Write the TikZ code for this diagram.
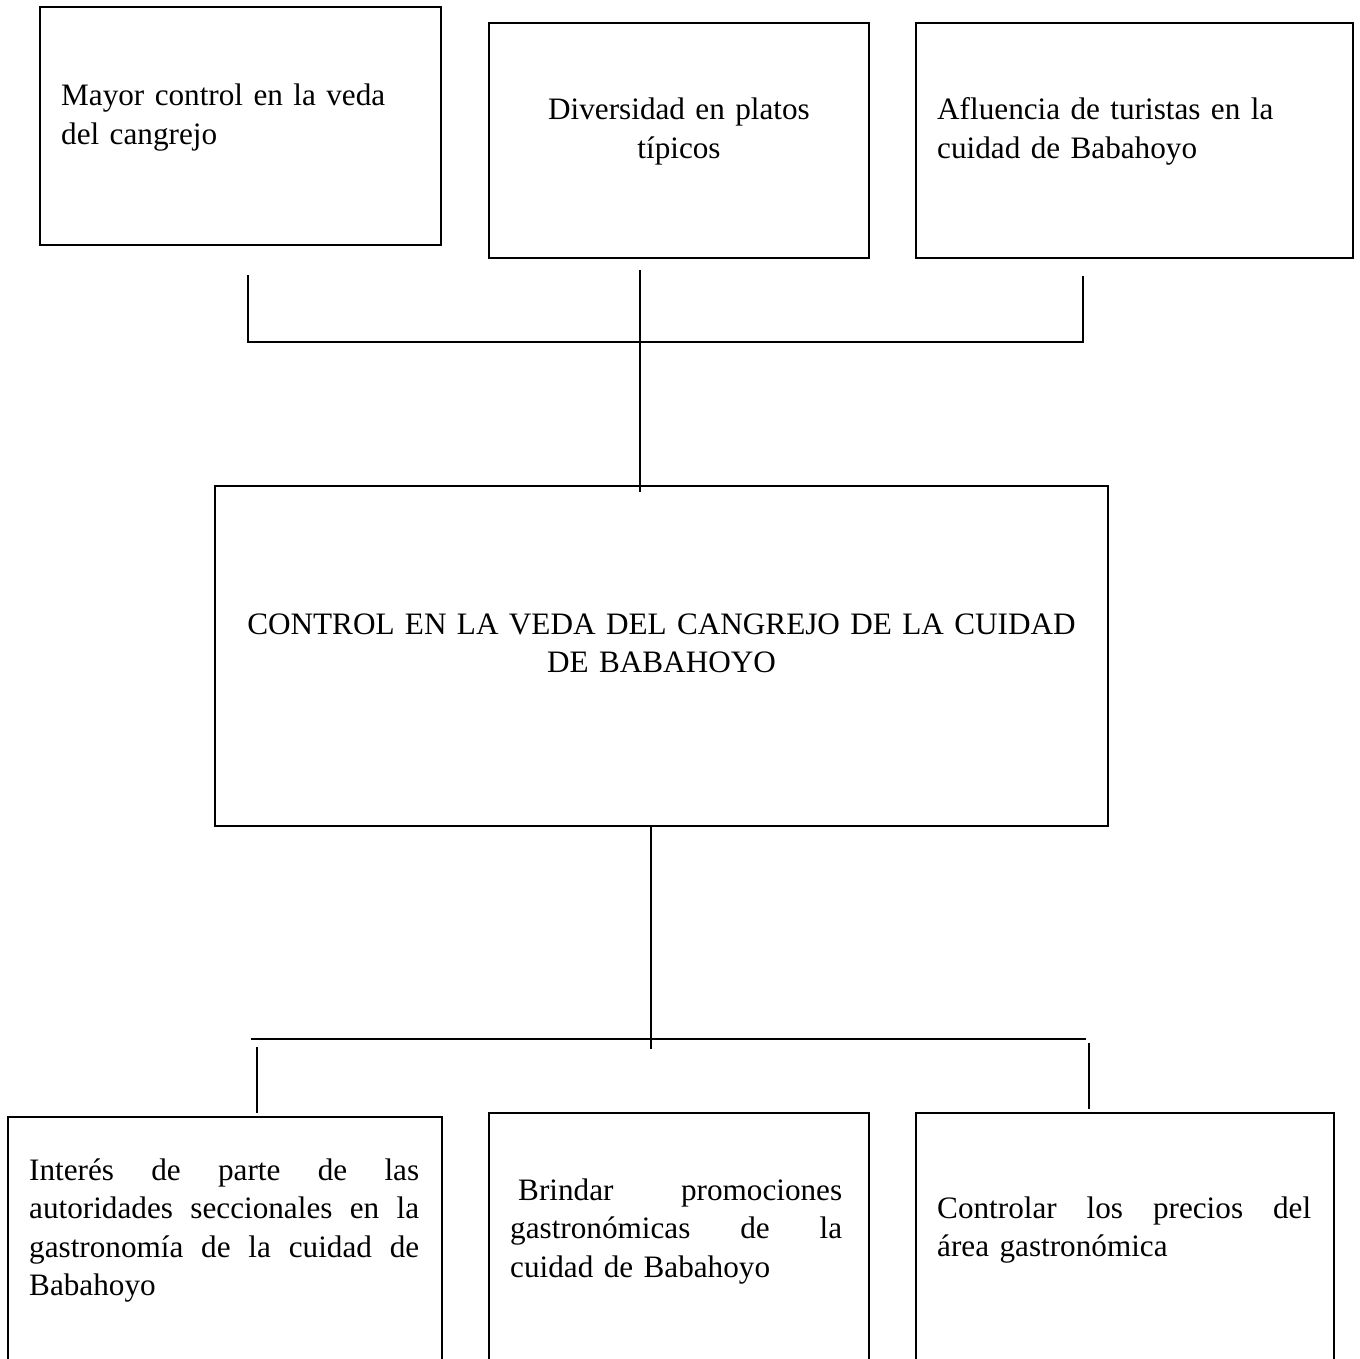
\documentclass[tikz,border=0pt]{standalone}
\usepackage{fontspec}
\setmainfont{Liberation Serif}
\usetikzlibrary{positioning}
\tikzset{
  box/.style={rectangle, draw=black, line width=2.4pt, inner sep=0pt, outer sep=0pt},
  txt/.style={inner sep=0pt, font=\fontsize{31.2}{38.5}\selectfont},
  connect/.style={line width=1.4pt}
}
% one justified line of a given width
\newcommand{\spread}[2]{\leavevmode\hbox to #1{#2}}

\begin{document}
\begin{tikzpicture}[x=1pt,y=-1pt]
    \path[use as bounding box, fill=white] (0,0) rectangle (1360,1359);
    \clip (0,0) rectangle (1360,1359);

    % boxes
    \node[box, minimum width=401pt, minimum height=238pt] (E1) at (240.5,126) {};
    \node[box, minimum width=380pt, minimum height=235pt] (E2) at (679,140.5) {};
    \node[box, minimum width=437pt, minimum height=235pt] (E3) at (1134.5,140.5) {};
    \node[box, minimum width=893pt, minimum height=340pt] (P) at (661.5,656) {};
    \node[box, minimum width=434pt, minimum height=283pt] (S1) at (225,1258.5) {};
    \node[box, minimum width=380pt, minimum height=287pt] (S2) at (679,1256.5) {};
    \node[box, minimum width=418pt, minimum height=287pt] (S3) at (1125,1256.5) {};

    % texts
    \node[txt, text width=370pt, align=left, below right=99pt and 21pt of E1.north west, anchor=base west] (E1t)
        {Mayor control en la veda\\del cangrejo};
    \node[txt, text width=370pt, align=center, below=97pt of E2.north, anchor=base] (E2t)
        {Diversidad en platos\\típicos};
    \node[txt, text width=420pt, align=left, below right=97pt and 21pt of E3.north west, anchor=base west] (E3t)
        {Afluencia de turistas en la\\cuidad de Babahoyo};
    \node[txt, text width=880pt, align=center, below=148pt of P.north, anchor=base] (Pt)
        {CONTROL EN LA VEDA DEL CANGREJO DE LA CUIDAD\\DE BABAHOYO};
    \node[txt, text width=390pt, align=left, below right=63pt and 21pt of S1.north west, anchor=base west] (S1t)
        {\spread{390pt}{Interés\hfill de\hfill parte\hfill de\hfill las}\\
         \spread{390pt}{autoridades\hfill seccionales\hfill en\hfill la}\\
         \spread{390pt}{gastronomía\hfill de\hfill la\hfill cuidad\hfill de}\\
         Babahoyo};
    \node[txt, text width=332pt, align=left, below right=87pt and 21pt of S2.north west, anchor=base west] (S2t)
        {\spread{332pt}{\hspace{8pt}Brindar\hfill promociones}\\
         \spread{332pt}{gastronómicas\hfill de\hfill la}\\
         cuidad de Babahoyo};
    \node[txt, text width=374pt, align=left, below right=105pt and 21pt of S3.north west, anchor=base west] (S3t)
        {\spread{374pt}{Controlar\hfill los\hfill precios\hfill del}\\
         área gastronómica};

    % connector ends
    \coordinate (Et1) at (248,275);  \coordinate (Eb1) at (248,342);
    \coordinate (Et3) at (1083,276); \coordinate (Eb3) at (1083,342);
    \coordinate (Et2) at (640,270);  \coordinate (Pin) at (640,492);
    \coordinate (Pout) at (651,826); \coordinate (Sj) at (651,1049);
    \coordinate (Sl) at (251,1039);  \coordinate (Sr) at (1086,1039);
    \coordinate (St1) at (257,1047); \coordinate (Sb1) at (257,1113);
    \coordinate (St3) at (1089,1043); \coordinate (Sb3) at (1089,1109);

    \draw[connect] (Et1) -- (Eb1) -- (Eb3) -- (Et3);
    \draw[connect] (Et2) -- (Pin);
    \draw[connect] (Pout) -- (Sj);
    \draw[connect] (Sl) -- (Sr);
    \draw[connect] (St1) -- (Sb1);
    \draw[connect] (St3) -- (Sb3);
\end{tikzpicture}
\end{document}
